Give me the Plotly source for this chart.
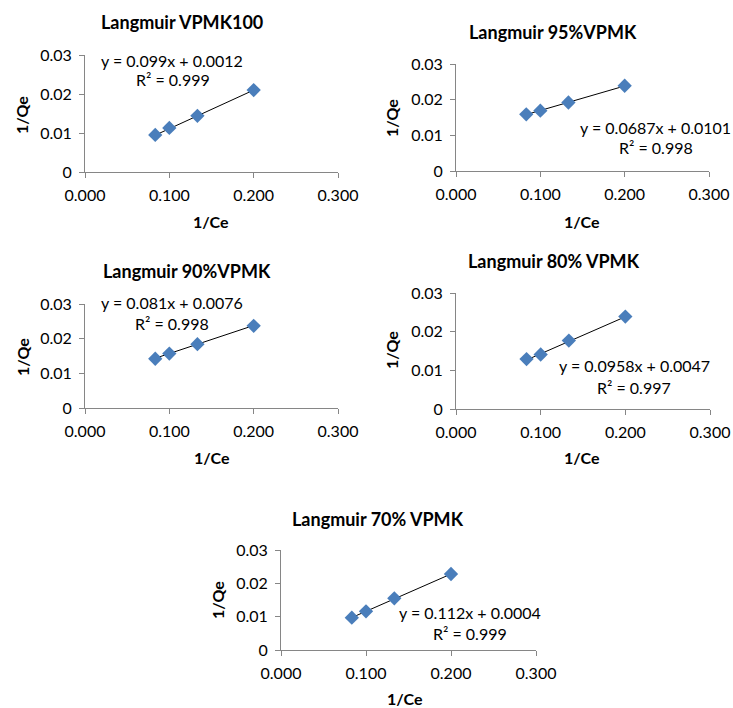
import plotly.graph_objects as go

W, H = 733, 708

x_vals = [0.0833, 0.1, 0.1333, 0.2]

titles = ["Langmuir VPMK100", "Langmuir 95%VPMK", "Langmuir 90%VPMK",
          "Langmuir 80% VPMK", "Langmuir 70% VPMK"]
y_vpmk100 = [0.0095, 0.0113, 0.0144, 0.0210]
y_95 = [0.0159, 0.0169, 0.0192, 0.0239]
y_90 = [0.0142, 0.0157, 0.0184, 0.0237]
y_80 = [0.0129, 0.0141, 0.0177, 0.0239]
y_70 = [0.0097, 0.0116, 0.0155, 0.0228]
series = [y_vpmk100, y_95, y_90, y_80, y_70]

slopes = [0.099, 0.0687, 0.081, 0.0958, 0.112]
intercepts = [0.0012, 0.0101, 0.0076, 0.0047, 0.0004]
eq_texts = ["y = 0.099x + 0.0012", "y = 0.0687x + 0.0101", "y = 0.081x + 0.0076",
            "y = 0.0958x + 0.0047", "y = 0.112x + 0.0004"]
r2_texts = ["R² = 0.999", "R² = 0.998", "R² = 0.998", "R² = 0.997", "R² = 0.999"]

x_ticks = [0.0, 0.1, 0.2, 0.3]
x_ticktext = ["0.000", "0.100", "0.200", "0.300"]
y_ticks = [0, 0.01, 0.02, 0.03]
y_ticktext = ["0", "0.01", "0.02", "0.03"]

# pixel layout (left, right, top, bottom) of each plot area
areas = [(85, 338, 55, 172), (456, 709, 64, 171), (85, 338, 304, 408),
         (456, 710, 293, 409), (281, 536, 550, 650)]
title_pos = [(182, 22), (553, 32), (187, 271), (554, 261), (378, 519)]
ytitle_pos = [(22, 115), (392, 118), (22, 357), (392, 350), (217, 600)]
xtitle_pos = [(211, 221), (582, 221), (212, 457), (582, 457), (405, 698)]
eq_pos = [(172, 60), (655, 127), (172, 302), (634, 365), (470, 612)]
r2_pos = [(173, 80), (656, 148), (172, 323), (634, 387), (470, 633)]

FONT = "Lato, Carlito, Calibri, sans-serif"
MARK = "#4A7EBB"
AX = "#868686"
FS = 16

def px(xp):
    return xp / W

def py(yp):
    return 1 - yp / H

fig = go.Figure()
annotations = []
layout = {}
for i in range(5):
    sfx = "" if i == 0 else str(i + 1)
    xa, ya = "x" + sfx, "y" + sfx
    l, r, t, b = areas[i]
    x0, x1 = x_vals[0], x_vals[-1]
    fig.add_trace(go.Scatter(
        x=[x0, x1], y=[slopes[i] * x0 + intercepts[i], slopes[i] * x1 + intercepts[i]],
        mode="lines", line=dict(color="black", width=1), xaxis=xa, yaxis=ya,
        showlegend=False, hoverinfo="skip"))
    fig.add_trace(go.Scatter(
        x=x_vals, y=series[i], mode="markers",
        marker=dict(symbol="diamond", size=11, color=MARK, line=dict(width=0)),
        xaxis=xa, yaxis=ya, showlegend=False))
    layout["xaxis" + sfx] = dict(
        domain=[px(l), px(r)], range=[0, 0.3], anchor=ya, automargin=False,
        tickvals=x_ticks, ticktext=x_ticktext, ticks="outside", ticklen=5,
        ticklabelstandoff=4,
        tickcolor=AX, showline=True, linecolor=AX, linewidth=1,
        showgrid=False, zeroline=False, fixedrange=True,
        tickfont=dict(family=FONT, size=FS, color="black"))
    layout["yaxis" + sfx] = dict(
        domain=[py(b), py(t)], range=[0, 0.03], anchor=xa, automargin=False,
        tickvals=y_ticks, ticktext=y_ticktext, ticks="outside", ticklen=5,
        ticklabelstandoff=4,
        tickcolor=AX, showline=True, linecolor=AX, linewidth=1,
        showgrid=False, zeroline=False, fixedrange=True,
        tickfont=dict(family=FONT, size=FS, color="black"))
    common = dict(xref="paper", yref="paper", showarrow=False,
                  xanchor="center", yanchor="middle")
    annotations.append(dict(text="<b>%s</b>" % titles[i], x=px(title_pos[i][0]), y=py(title_pos[i][1]),
                            font=dict(family=FONT, size=18, color="black"), **common))
    annotations.append(dict(text="<b>1/Qe</b>", x=px(ytitle_pos[i][0]), y=py(ytitle_pos[i][1]),
                            textangle=-90, font=dict(family=FONT, size=FS, color="black"), **common))
    annotations.append(dict(text="<b>1/Ce</b>", x=px(xtitle_pos[i][0]), y=py(xtitle_pos[i][1]),
                            font=dict(family=FONT, size=FS, color="black"), **common))
    annotations.append(dict(text=eq_texts[i], x=px(eq_pos[i][0]), y=py(eq_pos[i][1]),
                            font=dict(family=FONT, size=FS, color="black"), **common))
    annotations.append(dict(text=r2_texts[i], x=px(r2_pos[i][0]), y=py(r2_pos[i][1]),
                            font=dict(family=FONT, size=FS, color="black"), **common))

fig.update_layout(
    template="none",
    width=W, height=H, margin=dict(l=0, r=0, t=0, b=0, pad=0, autoexpand=False),
    paper_bgcolor="white", plot_bgcolor="white",
    annotations=annotations, showlegend=False, **layout)

fig.write_html("out.html")
